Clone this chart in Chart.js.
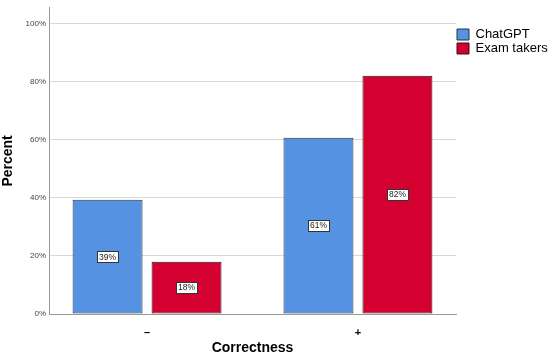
<!DOCTYPE html>
<html>
<head>
<meta charset="utf-8">
<script src="https://cdn.jsdelivr.net/npm/chart.js@4/dist/chart.umd.min.js"></script>
<style>
  html, body { margin: 0; padding: 0; background: #fff; }
  #wrap { width: 550px; height: 357px; }
</style>
</head>
<body>
<div id="wrap"><canvas id="c"></canvas></div>
<script>
const categories = ["–", "+"];
const chatgpt = [39.3, 60.7];
const examTakers = [18.0, 82.0];
const yTicks = [0, 20, 40, 60, 80, 100];

// bars sit on a linear x axis so the group positions match the original
const toPoints = (values) => values.map((v, i) => ({ x: i, y: v }));

// white boxed percentage in the middle of each bar
const barLabels = {
  id: "barLabels",
  afterDatasetsDraw(chart) {
    const ctx = chart.ctx;
    ctx.save();
    ctx.font = "8.5px 'Liberation Sans', Arial, sans-serif";
    ctx.textAlign = "center";
    ctx.textBaseline = "middle";
    chart.data.datasets.forEach((ds, i) => {
      const meta = chart.getDatasetMeta(i);
      meta.data.forEach((bar, j) => {
        const text = Math.round(ds.data[j].y) + "%";
        const x = bar.x;
        const y = (bar.y + bar.base) / 2;
        const w = Math.round(ctx.measureText(text).width + 4);
        const h = 11;
        const left = Math.round(x - w / 2) + 0.5;
        const top = Math.round(y - h / 2) + 0.5;
        ctx.fillStyle = "#fff";
        ctx.fillRect(left, top, w, h);
        ctx.strokeStyle = "#333";
        ctx.lineWidth = 1;
        ctx.strokeRect(left, top, w, h);
        ctx.fillStyle = "#222";
        ctx.fillText(text, x, y + 0.5);
      });
    });
    ctx.restore();
  },
};

new Chart(document.getElementById("c"), {
  type: "bar",
  data: {
    datasets: [
      {
        label: "ChatGPT",
        data: toPoints(chatgpt),
        backgroundColor: "#5592e2",
        borderColor: "#24324a",
        borderWidth: 1,
        borderSkipped: false,
      },
      {
        label: "Exam takers",
        data: toPoints(examTakers),
        backgroundColor: "#d4002f",
        borderColor: "#2e1218",
        borderWidth: 1,
        borderSkipped: false,
      },
    ],
  },
  options: {
    responsive: true,
    maintainAspectRatio: false,
    animation: false,
    categoryPercentage: 0.749,
    barPercentage: 0.886,
    layout: { padding: { top: 3, right: 0, bottom: 0, left: 0 } },
    plugins: {
      tooltip: { enabled: false },
      legend: {
        position: "right",
        align: "start",
        maxWidth: 94,
        title: { display: true, text: "", font: { size: 4, lineHeight: 1 }, padding: { top: 20, bottom: 0 } },
        labels: {
          boxWidth: 12,
          boxHeight: 11,
          padding: 1,
          color: "#000",
          font: { family: "'Liberation Sans', Arial, sans-serif", size: 13 },
        },
      },
    },
    scales: {
      x: {
        type: "linear",
        offset: false,
        min: -0.465,
        max: 1.465,
        grid: { display: false },
        border: { color: "#999", width: 1 },
        ticks: {
          color: "#000",
          padding: 4,
          font: { family: "'Liberation Sans', Arial, sans-serif", size: 11, weight: "bold" },
          callback: (v) => categories[v],
        },
        afterBuildTicks(scale) { scale.ticks = categories.map((c, i) => ({ value: i })); },
        title: {
          display: true,
          text: "Correctness",
          color: "#000",
          padding: 0,
          font: { family: "'Liberation Sans', Arial, sans-serif", size: 14, weight: "bold" },
        },
        afterFit(scale) { scale.height = 43; },
      },
      y: {
        min: 0,
        max: 105.4,
        grid: { color: "#d9d9d9", lineWidth: 1, drawTicks: false },
        border: { color: "#999", width: 1 },
        ticks: {
          color: "#444",
          padding: 3,
          font: { family: "'Liberation Sans', Arial, sans-serif", size: 8 },
          callback: (v) => v + "%",
        },
        afterBuildTicks(scale) { scale.ticks = yTicks.map((v) => ({ value: v })); },
        title: {
          display: true,
          text: "Percent",
          color: "#000",
          padding: 0,
          font: { family: "'Liberation Sans', Arial, sans-serif", size: 14, weight: "bold" },
        },
        afterFit(scale) { scale.width = 49; },
      },
    },
  },
  plugins: [barLabels],
});
</script>
</body>
</html>
